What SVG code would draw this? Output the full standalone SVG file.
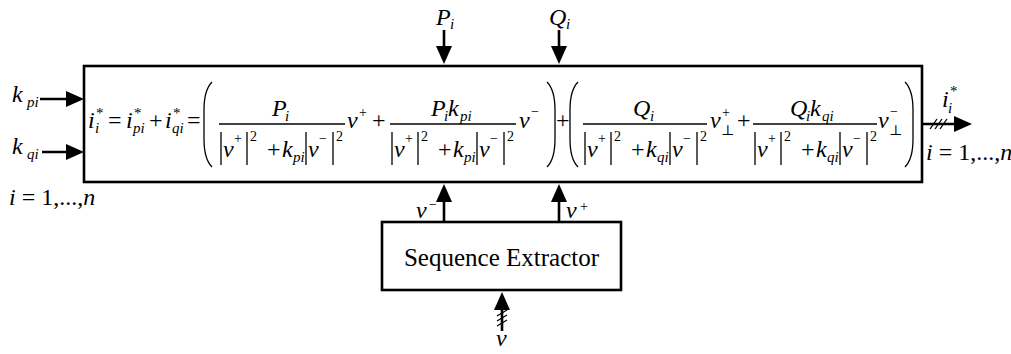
<svg xmlns="http://www.w3.org/2000/svg" xmlns:xlink="http://www.w3.org/1999/xlink" width="1011" height="354" viewBox="0 0 1011 354">
<style>
text{font-family:"Liberation Serif","DejaVu Serif",serif;fill:#000}
.m{font-style:italic;font-size:24px}
.r{font-size:24px}
.s{font-style:italic;font-size:15px}
.sr{font-size:14px}
.st{font-size:15px}
.box{fill:#fff;stroke:#000;stroke-width:2.6}
.w{stroke:#000;stroke-width:2.6;fill:none}
.thin{stroke:#000;stroke-width:1.3;fill:none}
.h{stroke:#000;stroke-width:1.3;fill:none}
</style>
<defs>
<marker id="ah" markerUnits="userSpaceOnUse" markerWidth="18" markerHeight="16" refX="14" refY="8" orient="auto">
<path d="M0,0 L18,8 L0,16 Z" fill="#000"/>
</marker>
<g id="denP">
<line class="thin" x1="2" y1="132" x2="2" y2="165"/>
<text class="m" x="4" y="157">v</text><text class="sr" x="15" y="143">+</text>
<line class="thin" x1="28" y1="132" x2="28" y2="165"/>
<text class="sr" x="31" y="141">2</text>
<text class="r" x="48" y="157">+</text>
<text class="m" x="63" y="157">k</text><text class="s" x="74" y="162">pi</text>
<line class="thin" x1="87" y1="132" x2="87" y2="165"/>
<text class="m" x="89" y="157">v</text><text class="sr" x="100" y="143">−</text>
<line class="thin" x1="114" y1="132" x2="114" y2="165"/>
<text class="sr" x="117" y="141">2</text>
</g>
<g id="denQ">
<line class="thin" x1="2" y1="132" x2="2" y2="165"/>
<text class="m" x="4" y="157">v</text><text class="sr" x="15" y="143">+</text>
<line class="thin" x1="28" y1="132" x2="28" y2="165"/>
<text class="sr" x="31" y="141">2</text>
<text class="r" x="48" y="157">+</text>
<text class="m" x="63" y="157">k</text><text class="s" x="74" y="162">qi</text>
<line class="thin" x1="87" y1="132" x2="87" y2="165"/>
<text class="m" x="89" y="157">v</text><text class="sr" x="100" y="143">−</text>
<line class="thin" x1="114" y1="132" x2="114" y2="165"/>
<text class="sr" x="117" y="141">2</text>
</g>
</defs>
<rect width="1011" height="354" fill="#fff"/>

<g id="connectors">
<line class="w" x1="40" y1="99" x2="80" y2="99" marker-end="url(#ah)"/>
<line class="w" x1="42" y1="152" x2="80" y2="152" marker-end="url(#ah)"/>
<line class="w" x1="444" y1="30" x2="444" y2="60" marker-end="url(#ah)"/>
<line class="w" x1="559" y1="30" x2="559" y2="60" marker-end="url(#ah)"/>
<line class="w" x1="444" y1="222" x2="444" y2="188" marker-end="url(#ah)"/>
<line class="w" x1="559" y1="222" x2="559" y2="188" marker-end="url(#ah)"/>
<line class="w" x1="502" y1="331" x2="502" y2="296" marker-end="url(#ah)"/>
<line class="h" x1="497" y1="316" x2="507" y2="310"/>
<line class="h" x1="497" y1="321" x2="507" y2="315"/>
<line class="h" x1="497" y1="326" x2="507" y2="320"/>
<line class="w" x1="922" y1="124" x2="968" y2="124" marker-end="url(#ah)"/>
<line class="h" x1="930" y1="129" x2="937" y2="119"/>
<line class="h" x1="935" y1="129" x2="942" y2="119"/>
<line class="h" x1="940" y1="129" x2="947" y2="119"/>
</g>

<g id="labels">
<text class="m" x="12" y="102">k</text><text class="s" x="27" y="107">pi</text>
<text class="m" x="12" y="154">k</text><text class="s" x="27" y="159">qi</text>
<text class="r" x="9" y="205"><tspan font-style="italic">i</tspan> = 1,...,<tspan font-style="italic">n</tspan></text>
<text class="m" x="436" y="25">P</text><text class="s" x="450" y="29">i</text>
<text class="m" x="549" y="25">Q</text><text class="s" x="566" y="29">i</text>
<text class="m" x="416" y="218">v</text><text class="sr" x="429" y="209">−</text>
<text class="m" x="566" y="218">v</text><text class="sr" x="580" y="211">+</text>
<text class="m" x="496" y="346">v</text>
<text class="m" x="942" y="107">i</text><text class="s" x="948" y="113">i</text><text class="st" x="950" y="96">*</text>
<text class="r" x="926" y="160"><tspan font-style="italic">i</tspan> = 1,...,<tspan font-style="italic">n</tspan></text>
</g>

<g id="controller">
<rect class="box" x="84" y="66" width="838" height="116"/>
<text class="m" x="88" y="128">i</text><text class="s" x="95" y="133">i</text><text class="st" x="96" y="118">*</text>
<text class="r" x="108" y="128">=</text>
<text class="m" x="126" y="128">i</text><text class="s" x="133" y="133">pi</text><text class="st" x="134" y="118">*</text>
<text class="r" x="149" y="128">+</text>
<text class="m" x="165" y="128">i</text><text class="s" x="172" y="133">qi</text><text class="st" x="173" y="118">*</text>
<text class="r" x="187" y="128">=</text>
<path class="thin" d="M212,82 C206,88 204,98 204,110 L204,139 C204,151 206,161 212,167"/>
<text class="m" x="272" y="116">P</text><text class="s" x="285" y="121">i</text>
<line class="thin" x1="219" y1="124" x2="345" y2="124"/>
<use xlink:href="#denP" x="219"/>
<text class="m" x="347" y="128">v</text><text class="sr" x="359" y="117">+</text>
<text class="r" x="372" y="128">+</text>
<text class="m" x="431" y="116">P</text><text class="s" x="444" y="121">i</text><text class="m" x="448" y="116">k</text><text class="s" x="460" y="121">pi</text>
<line class="thin" x1="390" y1="124" x2="516" y2="124"/>
<use xlink:href="#denP" x="390"/>
<text class="m" x="519" y="128">v</text><text class="sr" x="531" y="116">−</text>
<path class="thin" d="M547,82 C553,88 555,98 555,110 L555,139 C555,151 553,161 547,167"/>
<text class="r" x="556" y="128">+</text>
<path class="thin" d="M578,82 C572,88 570,98 570,110 L570,139 C570,151 572,161 578,167"/>
<text class="m" x="633" y="116">Q</text><text class="s" x="650" y="121">i</text>
<line class="thin" x1="583" y1="124" x2="707" y2="124"/>
<use xlink:href="#denQ" x="583"/>
<text class="m" x="710" y="128">v</text><text class="sr" x="722" y="117">+</text><text class="sr" x="721" y="135">⊥</text>
<text class="r" x="737" y="128">+</text>
<text class="m" x="790" y="116">Q</text><text class="s" x="806" y="121">i</text><text class="m" x="810" y="116">k</text><text class="s" x="822" y="121">qi</text>
<line class="thin" x1="753" y1="124" x2="877" y2="124"/>
<use xlink:href="#denQ" x="753"/>
<text class="m" x="878" y="128">v</text><text class="sr" x="890" y="116">−</text><text class="sr" x="889" y="135">⊥</text>
<path class="thin" d="M905,82 C911,88 913,98 913,110 L913,139 C913,151 911,161 905,167"/>
</g>

<g id="extractor">
<rect class="box" x="382" y="222" width="239" height="68"/>
<text x="501.5" y="266" font-size="25" text-anchor="middle">Sequence Extractor</text>
</g>
</svg>
